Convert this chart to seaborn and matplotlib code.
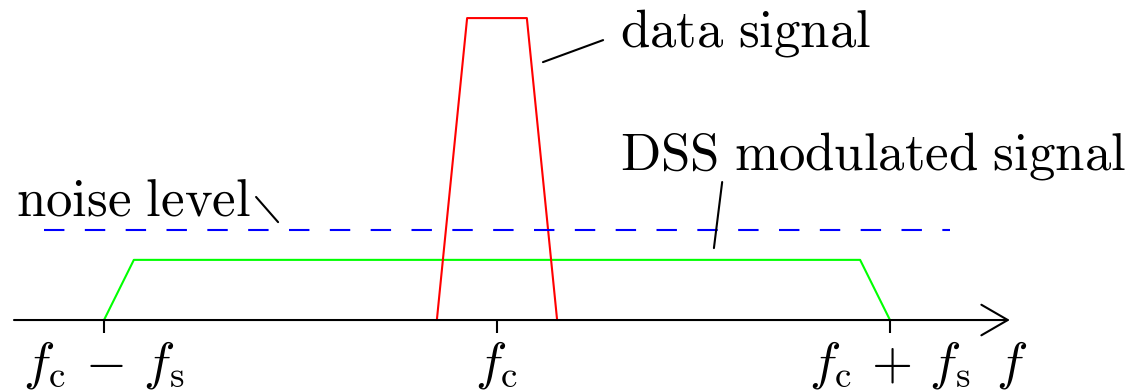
import numpy as np
import pandas as pd
import seaborn as sns
import matplotlib.pyplot as plt

sns.set_style("white")
plt.rcParams["mathtext.fontset"] = "cm"
plt.rcParams["text.color"] = "black"

# frequencies in units of f_s, centred on f_c
data_x = [-0.153, -0.076, 0.076, 0.153]
data_y = [0.0, 0.768, 0.768, 0.0]
dss_x = [-1.0, -0.924, 0.924, 1.0]
dss_y = [0.0, 0.153, 0.153, 0.0]
noise_x = [-1.153, 1.153]
noise_y = [0.229, 0.229]

tick_pos = [-1.0, 0.0, 1.0]
tick_labels = [r"$f_\mathrm{c}\,-\,f_\mathrm{s}$", r"$f_\mathrm{c}$", r"$f_\mathrm{c}\,+\,f_\mathrm{s}$"]

axis_start, axis_end = -1.229, 1.305

fig = plt.figure(figsize=(11.36, 3.9), dpi=100)
ax = fig.add_axes([0, 0, 1, 1])

sns.lineplot(x=dss_x, y=dss_y, sort=False, estimator=None, color="#00ff00", lw=1.5, ax=ax)
sns.lineplot(x=data_x, y=data_y, sort=False, estimator=None, color="#ff0000", lw=1.5, ax=ax)
sns.lineplot(x=noise_x, y=noise_y, sort=False, estimator=None, color="#0000ff", lw=1.5,
             linestyle=(0, (9.8, 9.8)), ax=ax)

# frequency axis with arrow
ax.annotate("", xy=(axis_end, 0), xytext=(axis_start, 0),
            arrowprops=dict(arrowstyle="->,head_length=0.95,head_width=0.55", lw=1.5,
                            color="black", shrinkA=0, shrinkB=0, mutation_scale=20))
ax.vlines(tick_pos, -0.033, 0, color="black", lw=1.5)
for p, lab in zip(tick_pos, tick_labels):
    ax.text(p, -0.150, lab, ha="center", va="baseline", fontsize=38)
ax.text(1.31, -0.150, r"$f$", ha="center", va="baseline", fontsize=38)

# labels with leader lines
ax.plot([0.117, 0.270], [0.656, 0.712], color="black", lw=1.5)
ax.text(0.313, 0.695, r"$\mathrm{data\ signal}$", ha="left", va="baseline", fontsize=38)
ax.plot([0.552, 0.573], [0.183, 0.351], color="black", lw=1.5)
ax.text(0.313, 0.382, r"$\mathrm{DSS\ modulated\ signal}$", ha="left", va="baseline", fontsize=38)
ax.plot([-0.613, -0.557], [0.313, 0.249], color="black", lw=1.5)
ax.text(-1.224, 0.265, r"$\mathrm{noise\ level}$", ha="left", va="baseline", fontsize=38)

ax.set_xlim(-1.2646, 1.626)
ax.set_ylim(-0.178, 0.814)
ax.axis("off")
if ax.get_legend():
    ax.get_legend().remove()

fig.savefig("out.png", dpi=100)
